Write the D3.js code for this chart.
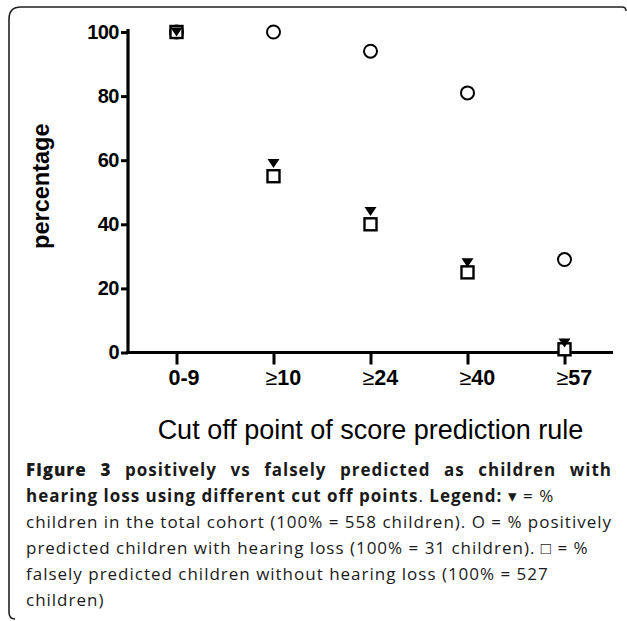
<!DOCTYPE html>
<html>
<head>
<meta charset="utf-8">
<script src="https://cdn.jsdelivr.net/npm/d3@7"></script>
<style>
  html, body { margin: 0; padding: 0; background: #fff; }
  svg { display: block; }
</style>
</head>
<body>
<svg id="chart" width="627" height="621"></svg>
<script>
// cut off categories on the x axis
const cutoffs = ['0-9', '10', '24', '40', '57'];
// percentage series
const totalCohort = [100, 59, 44, 28, 3];      // filled down triangle
const positives = [100, 100, 94, 81, 29];      // open circle
const falsePositives = [100, 55, 40, 25, 1];   // open square
const yTicks = [0, 20, 40, 60, 80, 100];

const svg = d3.select('#chart');

const x = d3.scalePoint()
  .domain(cutoffs)
  .range([128, 613])
  .padding(0.5);

const y = d3.scaleLinear()
  .domain([0, 100])
  .range([352.5, 32]);

// frame (only top and left sides drawn, rounded corner)
svg.append('path')
  .attr('d', 'M15,619 Q9,619 9,612 L9,19 Q9,7 21,7 L622,7 Q626,7 626,11')
  .attr('fill', 'none')
  .attr('stroke', '#222')
  .attr('stroke-width', 1.6);

// y axis
const yAxis = d3.axisLeft(y)
  .tickValues(yTicks)
  .tickSize(7)
  .tickSizeOuter(0)
  .tickPadding(2);

const gy = svg.append('g')
  .attr('transform', 'translate(128,0)')
  .call(yAxis);

gy.select('.domain').attr('stroke', '#000').attr('stroke-width', 3.2)
  .attr('d', `M0,${y(100) - 3}V${y(0) + 1.5}`);
gy.selectAll('.tick line').attr('stroke', '#000').attr('stroke-width', 3);
gy.selectAll('.tick text')
  .attr('fill', '#000')
  .style('font-family', '"Liberation Sans", Arial, sans-serif')
  .style('font-size', '20px')
  .style('font-weight', 'bold')
  .style('letter-spacing', '-0.5px');

// x axis
const xAxis = d3.axisBottom(x)
  .tickSize(12)
  .tickSizeOuter(0)
  .tickFormat(() => '');

const gx = svg.append('g')
  .attr('transform', `translate(0,${y(0)})`)
  .call(xAxis);

gx.select('.domain').attr('stroke', '#000').attr('stroke-width', 3.2)
  .attr('d', 'M126.5,0H613');
gx.selectAll('.tick line').attr('stroke', '#000').attr('stroke-width', 3);

// labels start a little left of each tick, as in the figure
const xLabels = gx.selectAll('.tick text')
  .attr('fill', '#000')
  .attr('x', -8.5)
  .attr('y', 32)
  .attr('dy', 0)
  .attr('text-anchor', 'start')
  .style('font-family', '"Liberation Sans", Arial, sans-serif')
  .style('font-size', '21.5px');

xLabels.each(function(d, i) {
  const t = d3.select(this);
  if (i > 0) {
    t.append('tspan').style('font-weight', 'normal').text('\u2265');
  }
  t.append('tspan').style('font-weight', 'bold').text(d);
});

// axis titles
svg.append('text')
  .attr('transform', `translate(49,${(y(0) + y(100)) / 2 - 6}) rotate(-90)`)
  .attr('text-anchor', 'middle')
  .style('font-family', '"Liberation Sans", Arial, sans-serif')
  .style('font-size', '23.5px')
  .style('font-weight', 'bold')
  .text('percentage');

svg.append('text')
  .attr('x', (128 + 613) / 2)
  .attr('y', 439)
  .attr('text-anchor', 'middle')
  .style('font-family', '"Liberation Sans", Arial, sans-serif')
  .style('font-size', '27px')
  .text('Cut off point of score prediction rule');

// markers
const marks = svg.append('g');

marks.selectAll('.circ')
  .data(positives)
  .join('circle')
  .attr('class', 'circ')
  .attr('cx', (d, i) => x(cutoffs[i]))
  .attr('cy', d => y(d))
  .attr('r', 6.5)
  .attr('fill', 'none')
  .attr('stroke', '#000')
  .attr('stroke-width', 2);

marks.selectAll('.sq')
  .data(falsePositives)
  .join('rect')
  .attr('class', 'sq')
  .attr('x', (d, i) => x(cutoffs[i]) - 6)
  .attr('y', d => y(d) - 6)
  .attr('width', 12)
  .attr('height', 12)
  .attr('fill', '#fff')
  .attr('stroke', '#000')
  .attr('stroke-width', 2.4);

marks.selectAll('.tri')
  .data(totalCohort)
  .join('path')
  .attr('class', 'tri')
  .attr('d', (d, i) => {
    const cx = x(cutoffs[i]), cy = y(d);
    return `M${cx - 6},${cy - 4.5}L${cx + 6},${cy - 4.5}L${cx},${cy + 4.5}Z`;
  })
  .attr('fill', '#000');

// caption
const capX = 26, capW = 586;
const cap = svg.append('g')
  .style('font-family', '"Open Sans", "Noto Sans", sans-serif')
  .style('font-size', '17px')
  .attr('fill', '#1a1a1a');

const capLines = [
  [{ t: 'Figure 3', b: 800 }, { t: ' positively vs falsely predicted as children with', b: 700 }],
  [{ t: 'hearing loss using different cut off points', b: 700 }, { t: '. ', b: 400 },
   { t: 'Legend:', b: 700 }, { t: ' \u25BE = %', b: 400 }],
  [{ t: 'children in the total cohort (100% = 558 children). O = % positively', b: 400 }],
  [{ t: 'predicted children with hearing loss (100% = 31 children). \u25A1 = %', b: 400 }],
  [{ t: 'falsely predicted children without hearing loss (100% = 527', b: 400 }],
  [{ t: 'children)', b: 400 }]
];
const justify = [true, false, false, false, false, false];

const lineNodes = capLines.map((parts, i) => {
  const line = cap.append('text')
    .attr('x', capX)
    .attr('y', 476 + i * 26);
  parts.forEach(p => {
    line.append('tspan').style('font-weight', p.b).text(p.t);
  });
  return line;
});

// the plain third line spans the full caption width: set letter spacing from it
const l3 = lineNodes[2];
const ls = (capW - l3.node().getComputedTextLength()) / l3.text().length;
cap.style('letter-spacing', `${ls}px`);

lineNodes.forEach((line, i) => {
  if (justify[i]) {
    const w = line.node().getComputedTextLength();
    const gaps = line.text().split(' ').length - 1;
    line.style('word-spacing', `${(capW - w) / gaps}px`);
  }
});
</script>
</body>
</html>
